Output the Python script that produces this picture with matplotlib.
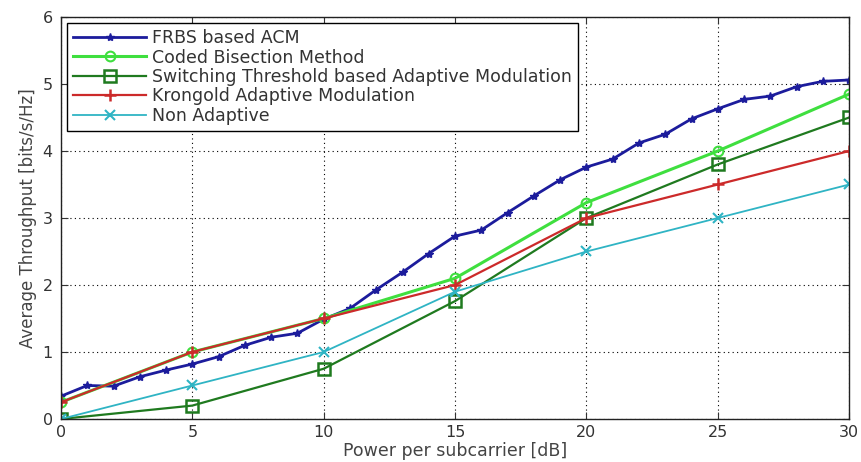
import matplotlib.pyplot as plt

plt.rcParams["font.family"] = ["DejaVu Sans"]

# power per subcarrier [dB]
x_frbs = list(range(0, 31))
x_coarse = [0, 5, 10, 15, 20, 25, 30]

frbs_acm = [0.34, 0.50, 0.49, 0.63, 0.73, 0.82, 0.93, 1.10, 1.22, 1.28,
            1.49, 1.65, 1.93, 2.19, 2.47, 2.73, 2.82, 3.08, 3.33, 3.57,
            3.76, 3.88, 4.12, 4.25, 4.48, 4.63, 4.77, 4.82, 4.96, 5.04,
            5.06]
coded_bisection = [0.25, 1.0, 1.5, 2.1, 3.23, 4.0, 4.85]
switching_threshold = [0.0, 0.2, 0.75, 1.76, 3.0, 3.8, 4.5]
krongold = [0.25, 1.0, 1.5, 2.0, 3.0, 3.5, 4.0]
non_adaptive = [0.0, 0.5, 1.0, 1.9, 2.5, 3.0, 3.5]

fig = plt.figure(figsize=(8.61, 4.62), dpi=100)
ax = fig.add_axes([0.0708, 0.0931, 0.9155, 0.8701])

ax.plot(x_frbs, frbs_acm, color="#1c1c9c", lw=2.0, marker="*", ms=6,
        label="FRBS based ACM")
ax.plot(x_coarse, coded_bisection, color="#3fdf3f", lw=2.2, marker="o", ms=7,
        mfc="none", mew=1.5, label="Coded Bisection Method")
ax.plot(x_coarse, switching_threshold, color="#1f7a1f", lw=1.6, marker="s", ms=8,
        mfc="none", mew=1.8, label="Switching Threshold based Adaptive Modulation")
ax.plot(x_coarse, krongold, color="#cc2a2a", lw=1.6, marker="+", ms=9, mew=1.8,
        label="Krongold Adaptive Modulation")
ax.plot(x_coarse, non_adaptive, color="#2fb4c4", lw=1.3, marker="x", ms=7, mew=1.5,
        label="Non Adaptive")

ax.set_xlim(0, 30)
ax.set_ylim(0, 6)
ax.set_xticks(range(0, 31, 5))
ax.set_yticks(range(0, 7))
ax.grid(True, color="black", linestyle=(0, (1, 3)), linewidth=0.8)
ax.tick_params(direction="in", top=True, right=True, labelsize=11.5,
               length=5, colors="#333333", labelcolor="#333333")
ax.tick_params(axis="x", pad=4)
ax.tick_params(axis="y", pad=6)
for s in ax.spines.values():
    s.set_linewidth(1.0)
    s.set_color("#222222")

ax.set_xlabel("Power per subcarrier [dB]", fontsize=12.5, labelpad=2,
              color="#444444")
ax.set_ylabel("Average Throughput [bits/s/Hz]", fontsize=12, labelpad=4,
              color="#444444")

leg = ax.legend(loc="upper left", fontsize=12.5, fancybox=False, framealpha=1,
                edgecolor="black", borderaxespad=0.35, handlelength=4.2,
                handletextpad=0.35, labelspacing=0.08, borderpad=0.35)
leg.get_frame().set_linewidth(1.0)
for t in leg.get_texts():
    t.set_color("#333333")

fig.savefig("out.png", dpi=100)
